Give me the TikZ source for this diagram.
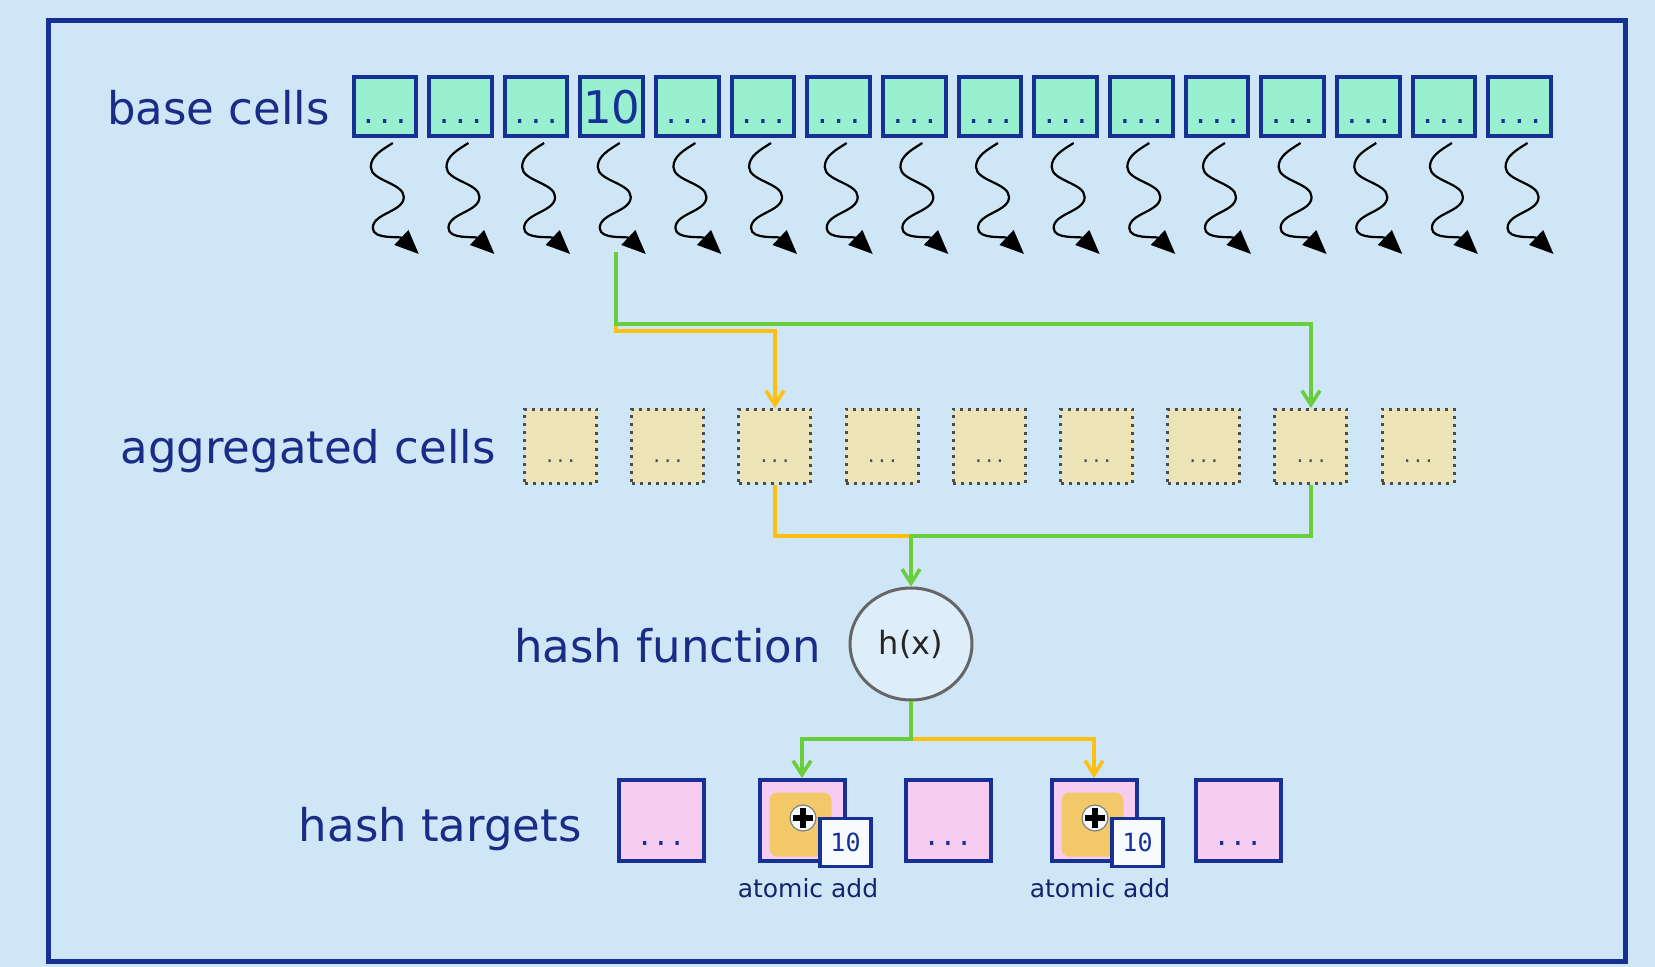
\documentclass[tikz,border=0pt]{standalone}
\usepackage{fontspec}
\setmainfont{DejaVu Sans}
\newfontfamily\cellmono{DejaVu Sans Mono}
\usepackage{xcolor}
\definecolor{bgblue}{RGB}{206,230,246}
\definecolor{frameblue}{RGB}{22,48,150}
\definecolor{labelblue}{RGB}{25,45,135}
\definecolor{cellgreen}{RGB}{152,240,208}
\definecolor{aggtan}{RGB}{236,228,182}
\definecolor{targetpink}{RGB}{246,204,240}
\definecolor{addyellow}{RGB}{242,200,105}
\definecolor{pathorange}{RGB}{255,192,20}
\definecolor{pathgreen}{RGB}{105,205,60}
\usetikzlibrary{arrows.meta,positioning,calc,shapes.geometric}

\begin{document}
\begin{tikzpicture}[
  x=0.5pt, y=-0.5pt,
  rowlabel/.style={font=\fontsize{22.5}{27}\selectfont, text=labelblue, inner sep=0pt, anchor=base east},
  basecell/.style={draw=frameblue, fill=cellgreen, line width=2pt, minimum width=31.3pt, minimum height=29.5pt, inner sep=0pt, font=\cellmono\fontsize{13.5}{16}\selectfont, text=frameblue, text height=17.5pt, text depth=0pt},
  aggcell/.style={draw=black!70, dash pattern=on 1.5pt off 2.5pt, line width=1.5pt, fill=aggtan, minimum width=36pt, minimum height=37pt, inner sep=0pt, font=\cellmono\fontsize{9}{11}\selectfont, text=black!70, text height=16.5pt, text depth=0pt},
  hashfn/.style={ellipse, draw=black!60, fill=bgblue!70!white, line width=1.5pt, minimum width=61pt, minimum height=56pt, inner sep=0pt, font=\fontsize{16}{19}\selectfont, text=black!85},
  target/.style={draw=frameblue, fill=targetpink, line width=2pt, minimum width=42.5pt, minimum height=40.5pt, inner sep=0pt, font=\cellmono\fontsize{13.5}{16}\selectfont, text=frameblue, text height=25pt, text depth=0pt},
  addicon/.style={rounded corners=4pt, fill=addyellow, minimum width=31pt, minimum height=32pt, inner sep=0pt},
  plussign/.style={circle, fill=white!80!bgblue, draw=black!50, line width=0.6pt, minimum size=13pt, inner sep=0pt,
    path picture={\draw[black, line width=3pt] ([xshift=-5pt]path picture bounding box.center) -- ([xshift=5pt]path picture bounding box.center)
      ([yshift=-5pt]path picture bounding box.center) -- ([yshift=5pt]path picture bounding box.center);}},
  valbox/.style={draw=frameblue, fill=white!85!bgblue, line width=1.6pt, minimum width=25.5pt, minimum height=24pt, inner sep=0pt, font=\cellmono\fontsize{12.5}{15}\selectfont, text=frameblue},
  note/.style={font=\fontsize{12.5}{15}\selectfont, text=labelblue!80!black, inner sep=0pt, anchor=base},
  wavearrow/.style={draw=black, line width=1.1pt, -{Triangle[length=12pt,width=10pt]}},
  orangelink/.style={draw=pathorange, line width=1.8pt},
  greenlink/.style={draw=pathgreen, line width=1.8pt},
  linkarrow/.style={-{Straight Barb[length=7pt,width=9pt]}}
]
\useasboundingbox (0,0) rectangle (1655,967);
\fill[bgblue] (0,0) rectangle (1655,967);
\draw[frameblue, line width=2.5pt] (48,21) rectangle (1625,961);

% base cells and their threads
\foreach \i in {0,...,15} {
  \pgfmathsetmacro\cx{384.8+75.65*\i}
  \node[basecell] (b\i) at (\cx,106.5) {\ifnum\i=3 {\rmfamily\fontsize{22.5}{27}\selectfont 10}\else ...\fi};
  \draw[wavearrow] (\cx+8,143) .. controls (\cx-3,150) and (\cx-14,156) .. (\cx-14,167)
    .. controls (\cx-14,181) and (\cx+19,183) .. (\cx+19,197)
    .. controls (\cx+19,212) and (\cx-12,213) .. (\cx-12,228)
    .. controls (\cx-12,240) and (\cx+15,236) .. (\cx+34,254);
}
\node[rowlabel] (lbase) at (330,124.5) {base cells};

% aggregated cells
\foreach \i in {0,...,8} {
  \node[aggcell] (a\i) at (560.5+107.2*\i,446.5) {...};
}
\node[rowlabel] (lagg) at (496,464) {aggregated cells};

% hash function
\node[hashfn] (hash) at (911,644) {h(x)};
\node[rowlabel] (lhash) at (821,662) {hash function};

% hash targets
\foreach \x [count=\i from 0] in {661,802,948,1094,1238} {
  \node[target] (t\i) at (\x,820.5) {\ifnum\i=1\else\ifnum\i=3\else ...\fi\fi};
}
\node[rowlabel] (ltarget) at (582,841) {hash targets};

\foreach \k in {1,3} {
  \node[addicon] (add\k) at ($(t\k)+(-1.5,4)$) {};
  \node[plussign] (plus\k) at ($(t\k)+(1,-2.5)$) {};
  \node[valbox] (val\k) at ($(t\k)+(43.5,22)$) {10};
  \node[note] (note\k) at ($(t\k)+(6,76.5)$) {atomic add};
}

% paths of the value 10
\coordinate (src) at (616,252);
\coordinate (obend) at (616,331);
\coordinate (gbend) at (616,324);
\coordinate (merge) at (911,536);
\coordinate (fork) at (911,739);

\draw[orangelink, linkarrow] (src) -- (obend) -| (a2.north);
\draw[greenlink, linkarrow] (src) -- (gbend) -| (a7.north);
\draw[orangelink] (a2.south) |- (merge);
\draw[greenlink, linkarrow] (a7.south) |- (merge) -- (hash.north);
\draw[orangelink, linkarrow] (fork) -| (t3.north);
\draw[greenlink, linkarrow] (hash.south) -- (fork) -| (t1.north);
\end{tikzpicture}
\end{document}
